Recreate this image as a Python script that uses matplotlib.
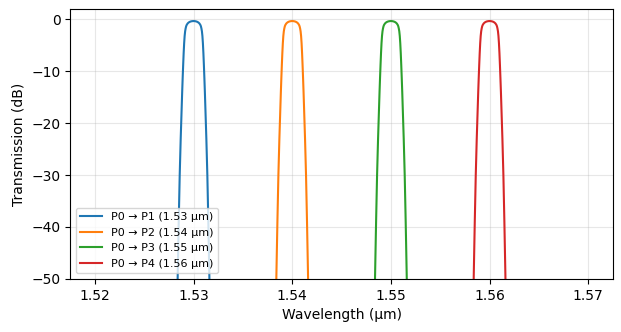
import matplotlib
matplotlib.use("Agg")
import matplotlib.pyplot as plt
import numpy as np

# channel centres (um) and labels
centres = [1.53, 1.54, 1.55, 1.56]
labels = [
    "P0 \u2192 P1 (1.53 \u00b5m)",
    "P0 \u2192 P2 (1.54 \u00b5m)",
    "P0 \u2192 P3 (1.55 \u00b5m)",
    "P0 \u2192 P4 (1.56 \u00b5m)",
]
colors = ["#1f77b4", "#ff7f0e", "#2ca02c", "#d62728"]

# passband profile: offset from centre (um) -> dB
offset_half = [0.0, 0.0001, 0.0002, 0.0003, 0.0004, 0.0005, 0.0006, 0.0007,
               0.00075, 0.0008, 0.00085, 0.0009, 0.00095, 0.001, 0.00105,
               0.0011, 0.00115, 0.0012, 0.0013, 0.0014, 0.0015, 0.0016, 0.0017]
db_half = [-0.33, -0.34, -0.37, -0.42, -0.5, -0.62, -0.8, -1.1,
           -1.35, -1.75, -2.3, -3.2, -4.6, -6.5, -8.8,
           -11.3, -14.0, -17.0, -23.0, -30.0, -39.0, -49.0, -60.0]

offsets = np.array([-o for o in offset_half[:0:-1]] + offset_half)
profile_db = np.array(db_half[:0:-1] + db_half)

fig, ax = plt.subplots(figsize=(6.21, 3.32), dpi=100)
for centre, label, color in zip(centres, labels, colors):
    ax.plot(centre + offsets, profile_db, color=color, lw=1.5, label=label)

ax.set_xlim(1.5175, 1.5725)
ax.set_ylim(-50, 2)
ax.set_xticks([1.52, 1.53, 1.54, 1.55, 1.56, 1.57])
ax.set_xlabel("Wavelength (\u00b5m)")
ax.set_ylabel("Transmission (dB)")
ax.grid(alpha=0.3)
ax.legend(loc="lower left", fontsize=8)
fig.subplots_adjust(left=0.113, right=0.987, top=0.973, bottom=0.16)
fig.savefig("out.png", dpi=100)
plt.close(fig)
